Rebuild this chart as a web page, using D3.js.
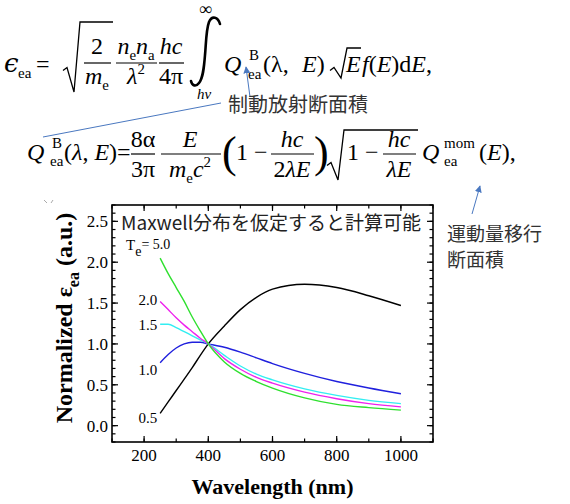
<!DOCTYPE html>
<html>
<head>
<meta charset="utf-8">
<script src="https://cdn.jsdelivr.net/npm/d3@7"></script>
<style>
  body { margin: 0; background: #fff; }
  svg { display: block; }
</style>
</head>
<body>
<div id="chart"></div>
<script>
const wavelengths = [250, 275, 300, 325, 350, 375, 400, 450, 500, 550, 600, 700, 800, 900, 1000];

// normalized emissivity for each electron temperature (eV)
const te05 = [0.15, 0.29, 0.43, 0.57, 0.71, 0.86, 1.0, 1.22, 1.42, 1.57, 1.67, 1.73, 1.69, 1.59, 1.47];
const te10 = [0.77, 0.87, 0.95, 1.0, 1.02, 1.02, 1.0, 0.96, 0.9, 0.83, 0.76, 0.64, 0.54, 0.46, 0.39];
const te15 = [1.24, 1.24, 1.2, 1.15, 1.1, 1.05, 1.0, 0.86, 0.73, 0.63, 0.56, 0.45, 0.37, 0.31, 0.27];
const te20 = [1.52, 1.42, 1.32, 1.23, 1.15, 1.07, 1.0, 0.82, 0.69, 0.59, 0.52, 0.41, 0.33, 0.27, 0.23];
const te50 = [2.05, 1.86, 1.69, 1.52, 1.33, 1.16, 1.0, 0.78, 0.64, 0.54, 0.46, 0.34, 0.26, 0.22, 0.19];

const seriesLabels = ['0.5', '1.0', '1.5', '2.0', '5.0'];
const xTickValues = [200, 400, 600, 800, 1000];
const yTickValues = [0, 0.5, 1.0, 1.5, 2.0, 2.5];

const series = [te05, te10, te15, te20, te50];
const colors = ['#000000', '#2020dd', '#33eef2', '#ee22ee', '#2fe02f'];
const labelDy = [5, 7, 1, -1, 0];

const W = 570, H = 504;
const SERIF = "'Liberation Serif', 'Times New Roman', serif";
const MATH = "'Liberation Serif', 'Times New Roman', serif";
const CJK = "'Noto Sans CJK JP', 'Noto Sans', sans-serif";
const ANNO = '#4a78c0';

const svg = d3.select('#chart').append('svg').attr('width', W).attr('height', H);

// ---------- equations ----------
function txt(x, y, s, opts = {}) {
  return svg.append('text')
    .attr('x', x).attr('y', y)
    .attr('font-family', opts.family || MATH)
    .attr('font-size', opts.size || 24)
    .attr('font-style', opts.italic ? 'italic' : 'normal')
    .attr('text-anchor', opts.anchor || 'start')
    .attr('fill', opts.fill || '#000')
    .text(s);
}

// run of tspans: [text, kind] kind = i (italic), r (roman), sb (sub), sp (sup)
function run(x, y, parts, anchor = 'start', size = 24) {
  const t = svg.append('text').attr('x', x).attr('y', y)
    .attr('font-family', MATH).attr('font-size', size).attr('text-anchor', anchor);
  let off = 0;
  parts.forEach(([s, k]) => {
    const target = k === 'sb' ? 6 : k === 'sp' ? -10 : 0;
    t.append('tspan')
      .attr('dy', target - off)
      .attr('font-size', k === 'sb' || k === 'sp' ? size * 0.62 : size)
      .attr('font-style', k === 'i' ? 'italic' : 'normal')
      .text(s);
    off = target;
  });
  return t;
}

function hline(x1, x2, y, w = 1.2) {
  svg.append('line').attr('x1', x1).attr('x2', x2).attr('y1', y).attr('y2', y)
    .attr('stroke', '#000').attr('stroke-width', w);
}

function radical(x, yTop, yBot, xEnd) {
  const yMid = yBot - (yBot - yTop) * 0.35;
  svg.append('path')
    .attr('d', `M${x},${yMid + 3} L${x + 4},${yMid} L${x + 11},${yBot} L${x + 17},${yTop} L${xEnd},${yTop}`)
    .attr('fill', 'none').attr('stroke', '#000').attr('stroke-width', 1.3);
}

// eq 1
txt(4, 72, 'ϵ', { italic: true, size: 26, family: "'DejaVu Serif', serif" });
txt(18, 78, 'ea', { size: 15 });
txt(36, 72, '=');
radical(63, 22, 92, 113);
txt(97, 54, '2', { anchor: 'middle' });
hline(84, 111, 63);
run(97, 84, [['m', 'i'], ['e', 'sb']], 'middle');
run(136, 54, [['n', 'i'], ['e', 'sb'], ['n', 'i'], ['a', 'sb']], 'middle');
hline(116, 157, 63);
run(136, 84, [['λ', 'i'], ['2', 'sp']], 'middle');
txt(171, 54, 'hc', { italic: true, anchor: 'middle' });
hline(159, 184, 63);
txt(171, 84, '4π', { anchor: 'middle' });
// integral sign
svg.append('path')
  .attr('d', 'M220,24 C218,17 212,15 209,22 C206,30 206,45 205,55 C204,68 203,78 199,83 C196,87 192,86 191,81')
  .attr('fill', 'none').attr('stroke', '#000').attr('stroke-width', 2.6).attr('stroke-linecap', 'round');
txt(199, 15, '∞', { size: 18 });
txt(197, 99, 'hν', { italic: true, size: 15 });
txt(224, 72, 'Q', { italic: true });
txt(249, 60, 'B', { size: 15 });
txt(248, 79, 'ea', { size: 15 });
txt(263, 72, '(λ,', {});
run(302, 72, [['E', 'i'], [')', 'r']]);
radical(330, 48, 78, 361);
txt(346, 72, 'E', { italic: true });
run(362, 72, [['f', 'i'], ['(', 'r'], ['E', 'i'], [')d', 'r'], ['E', 'i'], [',', 'r']]);

// eq 2
const b2 = 160;
txt(27, b2, 'Q', { italic: true });
txt(52, b2 - 12, 'B', { size: 15 });
txt(50, b2 + 6, 'ea', { size: 15 });
run(64, b2, [['(', 'r'], ['λ', 'i'], [', ', 'r'], ['E', 'i'], [')=', 'r']]);
txt(143, b2 - 13, '8α', { anchor: 'middle' });
hline(131, 155, b2 - 6);
txt(143, b2 + 17, '3π', { anchor: 'middle' });
txt(190, b2 - 13, 'E', { italic: true, anchor: 'middle' });
hline(161, 221, b2 - 6);
run(190, b2 + 17, [['m', 'i'], ['e', 'sb'], ['c', 'i'], ['2', 'sp']], 'middle');
svg.append('text').attr('x', 222).attr('y', b2 + 7)
  .attr('font-family', MATH).attr('font-size', 44).text('(');
txt(236, b2, '1 −');
txt(292, b2 - 13, 'hc', { italic: true, anchor: 'middle' });
hline(271, 314, b2 - 6);
run(292, b2 + 17, [['2', 'r'], ['λ', 'i'], ['E', 'i']], 'middle');
svg.append('text').attr('x', 314).attr('y', b2 + 7)
  .attr('font-family', MATH).attr('font-size', 44).text(')');
radical(327, 130, 180, 418);
txt(347, b2, '1 −');
txt(399, b2 - 13, 'hc', { italic: true, anchor: 'middle' });
hline(383, 416, b2 - 6);
run(399, b2 + 17, [['λ', 'i'], ['E', 'i']], 'middle');
txt(422, b2, 'Q', { italic: true });
txt(444, b2 - 12, 'mom', { size: 15 });
txt(444, b2 + 6, 'ea', { size: 15 });
run(479, b2, [['(', 'r'], ['E', 'i'], ['),', 'r']]);

// ---------- annotations ----------
svg.append('defs').append('marker')
  .attr('id', 'arr').attr('viewBox', '0 0 10 10').attr('refX', 9).attr('refY', 5)
  .attr('markerWidth', 7).attr('markerHeight', 7).attr('orient', 'auto')
  .append('path').attr('d', 'M0,0 L10,5 L0,10 z').attr('fill', ANNO);

svg.append('line').attr('x1', 250).attr('y1', 97).attr('x2', 246).attr('y2', 67)
  .attr('stroke', ANNO).attr('stroke-width', 1).attr('marker-end', 'url(#arr)');
svg.append('line').attr('x1', 43).attr('y1', 137).attr('x2', 221).attr('y2', 103)
  .attr('stroke', ANNO).attr('stroke-width', 1);
svg.append('line').attr('x1', 472).attr('y1', 214).attr('x2', 480).attr('y2', 186)
  .attr('stroke', ANNO).attr('stroke-width', 1).attr('marker-end', 'url(#arr)');

txt(228, 112, '制動放射断面積', { family: CJK, size: 20, fill: '#333' });
txt(447, 241, '運動量移行', { family: CJK, size: 19, fill: '#333' });
txt(447, 267, '断面積', { family: CJK, size: 19, fill: '#333' });

// faint clipped mark left of the plot
svg.append('path').attr('d', 'M44,200 L47,203 M51,203 L53,200')
  .attr('stroke', '#aaa').attr('stroke-width', 1).attr('fill', 'none');

// ---------- plot ----------
const plot = { left: 112, right: 433, top: 205, bottom: 442 };
const x = d3.scaleLinear().domain([100, 1100]).range([plot.left, plot.right]);
const y = d3.scaleLinear().domain([-0.2, 2.7]).range([plot.bottom, plot.top]);

const g = svg.append('g');

const line = d3.line()
  .x((d, i) => x(wavelengths[i]))
  .y(d => y(d))
  .curve(d3.curveMonotoneX);

g.selectAll('path.curve')
  .data(series)
  .enter()
  .append('path')
  .attr('class', 'curve')
  .attr('d', d => line(d))
  .attr('fill', 'none')
  .attr('stroke', (d, i) => colors[i])
  .attr('stroke-width', 1.4);

// curve labels (T_e in eV), placed at the start of each curve
g.selectAll('text.lab')
  .data(series.slice(0, 4))
  .enter()
  .append('text')
  .attr('class', 'lab')
  .attr('x', x(wavelengths[0]) - 3)
  .attr('y', (d, i) => y(d[0]) + labelDy[i] + 5)
  .attr('text-anchor', 'end')
  .attr('font-family', SERIF)
  .attr('font-size', 15)
  .text((d, i) => seriesLabels[i]);

const teLab = g.append('text').attr('x', 126).attr('y', 250)
  .attr('font-family', SERIF).attr('font-size', 15);
teLab.append('tspan').text('T');
teLab.append('tspan').attr('dy', 6).attr('font-size', 14).text('e');
teLab.append('tspan').attr('dy', -7).attr('font-size', 14).text('= ' + seriesLabels[4]);

// frame
g.append('rect')
  .attr('x', plot.left).attr('y', plot.top)
  .attr('width', plot.right - plot.left).attr('height', plot.bottom - plot.top)
  .attr('fill', 'none').attr('stroke', '#000').attr('stroke-width', 1.6);

// ticks, pointing inward on all four sides
const xMinor = d3.range(100, 1101, 100);
const yMinor = d3.range(-2, 28).map(v => v / 10);

function vtick(px, y1, y2) {
  g.append('line').attr('x1', px).attr('x2', px).attr('y1', y1).attr('y2', y2)
    .attr('stroke', '#000').attr('stroke-width', 1.2);
}
function htick(py, x1, x2) {
  g.append('line').attr('x1', x1).attr('x2', x2).attr('y1', py).attr('y2', py)
    .attr('stroke', '#000').attr('stroke-width', 1.2);
}
function tickSet(values, isMajor, axis) {
  const len = isMajor ? 6 : 3.5;
  values.forEach(v => {
    if (axis === 'x') {
      vtick(x(v), plot.bottom, plot.bottom - len);
      vtick(x(v), plot.top, plot.top + len);
    } else {
      htick(y(v), plot.left, plot.left + len);
      htick(y(v), plot.right, plot.right - len);
    }
  });
}
tickSet(xMinor, false, 'x');
tickSet(xTickValues, true, 'x');
tickSet(yMinor, false, 'y');
tickSet(yTickValues, true, 'y');

g.selectAll('text.xt')
  .data(xTickValues)
  .enter()
  .append('text')
  .attr('class', 'xt')
  .attr('x', d => x(d))
  .attr('y', plot.bottom + 19)
  .attr('text-anchor', 'middle')
  .attr('font-family', SERIF)
  .attr('font-size', 17)
  .text(d => d);

g.selectAll('text.yt')
  .data(yTickValues)
  .enter()
  .append('text')
  .attr('class', 'yt')
  .attr('x', plot.left - 4)
  .attr('y', d => y(d) + 6)
  .attr('text-anchor', 'end')
  .attr('font-family', SERIF)
  .attr('font-size', 17)
  .text(d => d3.format('.1f')(d));

// in-plot note
g.append('text').attr('x', 121).attr('y', 230)
  .attr('font-family', CJK).attr('font-size', 19).attr('fill', '#222')
  .text('Maxwell分布を仮定すると計算可能');

// axis titles
g.append('text')
  .attr('x', (plot.left + plot.right) / 2)
  .attr('y', 494)
  .attr('text-anchor', 'middle')
  .attr('font-family', SERIF)
  .attr('font-weight', 'bold')
  .attr('font-size', 22)
  .text('Wavelength (nm)');

const yl = g.append('text')
  .attr('transform', 'translate(72,318) rotate(-90)')
  .attr('text-anchor', 'middle')
  .attr('font-family', SERIF)
  .attr('font-weight', 'bold')
  .attr('font-size', 24);
yl.append('tspan').text('Normalized ε');
yl.append('tspan').attr('dy', 7).attr('font-size', 16).text('ea');
yl.append('tspan').attr('dy', -7).text(' (a.u.)');
</script>
</body>
</html>
